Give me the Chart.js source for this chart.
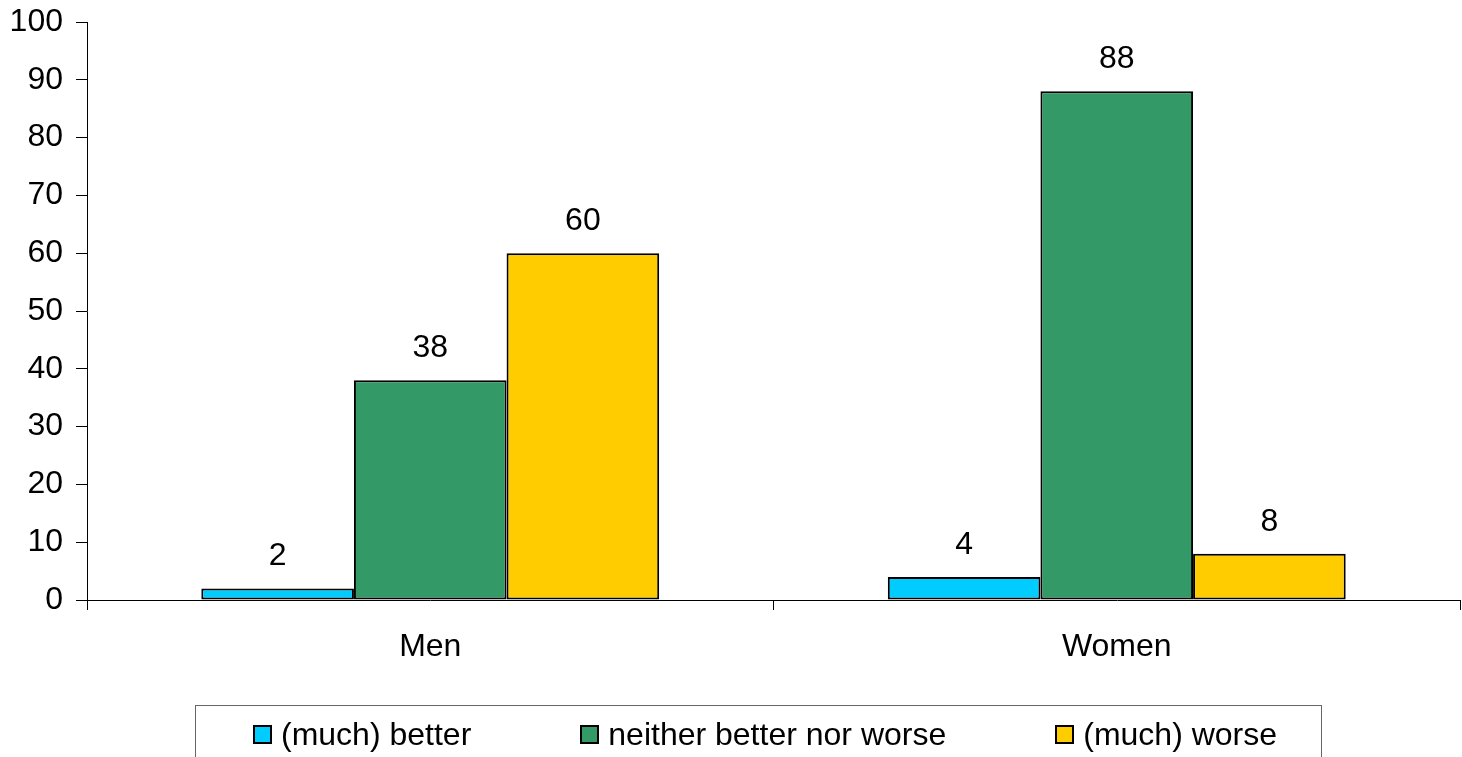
<!DOCTYPE html>
<html>
<head>
<meta charset="utf-8">
<script src="https://cdn.jsdelivr.net/npm/chart.js@4.4.0/dist/chart.umd.min.js"></script>
<style>
  html, body { margin: 0; padding: 0; background: #fff; overflow: hidden; }
  #wrap { position: relative; width: 1462px; height: 757px; }
  #legend {
    position: absolute; left: 195px; top: 705px; width: 1127px; height: 64px;
    box-sizing: border-box; border: 1px solid #666; padding: 10px 0 0 57px;
    font-family: "Liberation Sans", Arial, sans-serif; font-size: 32px; color: #000;
  }
  #legend .row { display: flex; align-items: center; height: 36px; column-gap: 109px; }
  #legend .item { display: flex; align-items: center; white-space: nowrap; }
  #legend .box { width: 15px; height: 15px; border: 2px solid #000; margin-right: 9px; }
</style>
</head>
<body>
<div id="wrap">
  <canvas id="chart"></canvas>
  <div id="legend"><div class="row"></div></div>
</div>
<script>
const categories = ['Men', 'Women'];
const seriesNames = ['(much) better', 'neither better nor worse', '(much) worse'];
const better = [2, 4];
const neither = [38, 88];
const worse = [60, 8];
const colors = ['#00CCFF', '#339966', '#FFCC00'];
const yTicks = [0, 10, 20, 30, 40, 50, 60, 70, 80, 90, 100];

const FONT = '"Liberation Sans", Arial, sans-serif';

const valueLabels = {
  id: 'valueLabels',
  afterDatasetsDraw(chart) {
    const ctx = chart.ctx;
    ctx.save();
    ctx.font = '32px ' + FONT;
    ctx.fillStyle = '#000';
    ctx.textAlign = 'center';
    ctx.textBaseline = 'alphabetic';
    chart.data.datasets.forEach((ds, i) => {
      chart.getDatasetMeta(i).data.forEach((bar, j) => {
        ctx.fillText(String(ds.data[j]), bar.x, bar.y - 23);
      });
    });
    ctx.restore();
  }
};

const ctx = document.getElementById('chart').getContext('2d');
const chart = new Chart(ctx, {
  type: 'bar',
  data: {
    labels: categories,
    datasets: [
      { label: seriesNames[0], data: better, backgroundColor: colors[0] },
      { label: seriesNames[1], data: neither, backgroundColor: colors[1] },
      { label: seriesNames[2], data: worse, backgroundColor: colors[2] }
    ].map(d => Object.assign(d, {
      borderColor: '#000', borderWidth: 2, borderSkipped: false,
      categoryPercentage: 0.667, barPercentage: 1.0
    }))
  },
  options: {
    responsive: true,
    maintainAspectRatio: false,
    animation: false,
    layout: { padding: { top: 22, right: 2, bottom: 0, left: 0 } },
    plugins: {
      legend: { display: false },
      tooltip: { enabled: false }
    },
    scales: {
      x: {
        afterFit(scale) { scale.height = 157; scale.paddingLeft = 0; scale.paddingRight = 0; },
        grid: { drawOnChartArea: false, tickLength: 10, color: '#000' },
        border: { color: '#000', width: 1 },
        ticks: { font: { size: 32, family: FONT }, color: '#000', padding: 18 }
      },
      y: {
        min: 0, max: 100,
        afterBuildTicks(scale) { scale.ticks = yTicks.map(v => ({ value: v })); },
        afterFit(scale) { scale.width = 87; scale.paddingTop = 0; scale.paddingBottom = 0; },
        grid: { drawOnChartArea: false, tickLength: 11, color: '#000' },
        border: { color: '#000', width: 1 },
        ticks: { font: { size: 32, family: FONT }, color: '#000', padding: 13 }
      }
    }
  },
  plugins: [valueLabels]
});

const row = document.querySelector('#legend .row');
seriesNames.forEach((name, i) => {
  const item = document.createElement('div');
  item.className = 'item';
  const box = document.createElement('span');
  box.className = 'box';
  box.style.background = colors[i];
  const txt = document.createElement('span');
  txt.textContent = name;
  item.appendChild(box);
  item.appendChild(txt);
  row.appendChild(item);
});
</script>
</body>
</html>
